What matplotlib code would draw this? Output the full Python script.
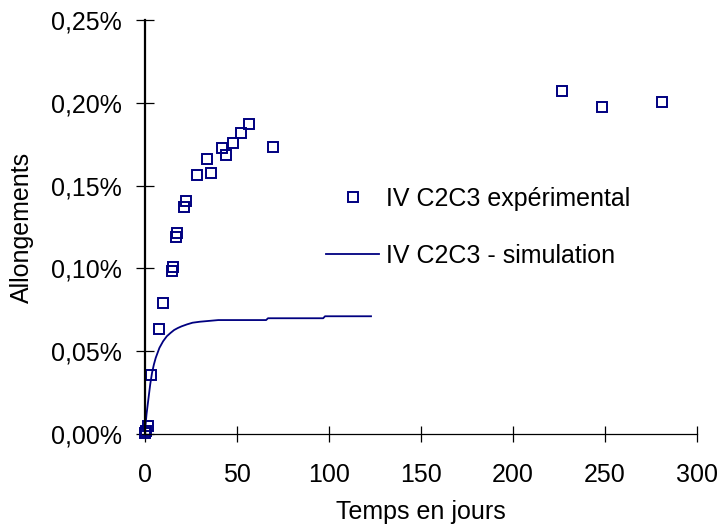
import matplotlib
matplotlib.use("Agg")
import matplotlib.pyplot as plt
from matplotlib.ticker import FuncFormatter, MultipleLocator

plt.rcParams['font.family'] = ['Liberation Sans', 'DejaVu Sans']

# Experimental data (days, elongation in %)
exp_days = [0.2, 0.6, 2.0, 3.3, 7.9, 10.1, 14.7, 15.5, 17.0, 17.7, 21.2, 22.3,
            28.6, 34.0, 36.2, 42.0, 44.0, 48.2, 52.5, 56.8, 69.9,
            227.0, 248.7, 281.3]
exp_vals = [0.0004, 0.0020, 0.0048, 0.0356, 0.0636, 0.0793, 0.0986, 0.1007,
            0.1191, 0.1216, 0.1373, 0.1409, 0.1566, 0.1662, 0.1578, 0.1725,
            0.1685, 0.1759, 0.1819, 0.1870, 0.1735,
            0.2073, 0.1976, 0.2003]

# Simulation curve
sim_days = [0, 0.5, 1, 2, 3, 4, 5, 6, 7, 8, 10, 12, 14, 16, 18, 20, 23, 26,
            30, 35, 40, 66, 67, 97, 98, 123]
sim_vals = [0, 0.006, 0.012, 0.021, 0.030, 0.037, 0.042, 0.046, 0.049, 0.052,
            0.056, 0.059, 0.061, 0.0628, 0.064, 0.065, 0.0662, 0.0672, 0.0678,
            0.0683, 0.0688, 0.0688, 0.0699, 0.0699, 0.0711, 0.0711]

label_exp = "IV C2C3 expérimental"
label_sim = "IV C2C3 - simulation"
x_ticks = [0, 50, 100, 150, 200, 250, 300]

navy = "#000080"
fs = 18

fig = plt.figure(figsize=(7.23, 5.24), dpi=100)
ax = fig.add_axes([144.7 / 723, 1 - 434 / 524, (696.7 - 144.7) / 723, (434 - 20) / 524])

l1, = ax.plot(exp_days, exp_vals, linestyle='none', marker='s', markersize=7,
              markerfacecolor='none', markeredgecolor=navy, markeredgewidth=1.4,
              label=label_exp, clip_on=False)
l2, = ax.plot(sim_days, sim_vals, color=navy, linewidth=1.3, label=label_sim)

ax.set_xlim(0, 300)
ax.set_ylim(0, 0.25)
ax.set_xticks(x_ticks)
ax.yaxis.set_major_locator(MultipleLocator(0.05))
ax.yaxis.set_major_formatter(FuncFormatter(lambda v, p: f"{v:.2f}%".replace('.', ',')))

for s in ['top', 'right']:
    ax.spines[s].set_visible(False)
ax.spines['left'].set_linewidth(1.6)
ax.spines['bottom'].set_linewidth(0.9)

ax.tick_params(axis='y', direction='inout', length=13, width=0.9, pad=10,
               labelsize=fs, colors='black')
ax.tick_params(axis='x', direction='inout', length=12, width=0.9, pad=15,
               labelsize=fs, colors='black')

ax.set_xlabel("Temps en jours", fontsize=fs)
ax.set_ylabel("Allongements", fontsize=fs)
ax.xaxis.set_label_coords(0.5, (434 - 500) / 414)
ax.yaxis.set_label_coords((34 - 144.7) / 552, 0.5)

leg = fig.legend(handles=[l1, l2], loc='center left',
                 bbox_to_anchor=(326 / 723, 1 - 227 / 524),
                 frameon=False, fontsize=fs, handlelength=2.12, handletextpad=0.26,
                 labelspacing=1.32, borderpad=0, borderaxespad=0)

fig.savefig("out.png", dpi=100)
